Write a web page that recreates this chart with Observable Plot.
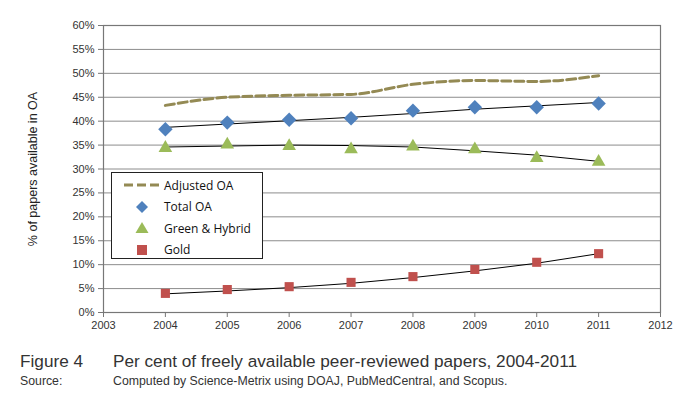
<!DOCTYPE html>
<html><head><meta charset="utf-8">
<script src="https://cdn.jsdelivr.net/npm/d3@7"></script>
<script src="https://cdn.jsdelivr.net/npm/@observablehq/plot@0.6"></script>
<style>
body{margin:0;background:#fff;font-family:"Liberation Sans",Arial,sans-serif;}
#wrap{position:relative;width:689px;height:401px;}
#legend{position:absolute;left:111px;top:172px;width:150px;height:85px;border:1px solid #222;background:#fff;font-family:"Open Sans","Liberation Sans",sans-serif;font-size:12px;color:#111;}
#legend .row{position:absolute;left:0;height:20px;display:flex;align-items:center;}
#legend svg{width:40px;height:16px;margin-left:10px;margin-right:2px;}
.cap{position:absolute;color:#333;font-family:"Liberation Sans",Arial,sans-serif;white-space:nowrap;}
</style></head>
<body><div id="wrap"><div id="chart"></div>
<div id="legend"></div>
<div class="cap" style="left:20px;top:351px;font-size:17.2px;">Figure 4</div>
<div class="cap" style="left:113px;top:351px;font-size:17.2px;">Per cent of freely available peer-reviewed papers, 2004-2011</div>
<div class="cap" style="left:20px;top:374px;font-size:12.3px;">Source:</div>
<div class="cap" style="left:113px;top:374px;font-size:12.3px;">Computed by Science-Metrix using DOAJ, PubMedCentral, and Scopus.</div>
</div>
<script>
const years = [2004,2005,2006,2007,2008,2009,2010,2011];
const adjustedOA = [43.3,45.0,45.4,45.6,47.7,48.5,48.3,49.5];
const totalOA = [38.3,39.7,40.3,40.6,42.2,42.9,42.9,43.7];
const greenHybrid = [34.4,35.1,34.8,34.1,34.7,34.1,32.3,31.5];
const gold = [4.0,4.8,5.4,6.3,7.5,9.0,10.5,12.3];
const totalTrend = [38.7,39.4,40.1,40.8,41.6,42.5,43.2,43.9];
const greenTrend = [34.6,34.8,35.0,34.9,34.6,33.8,32.9,31.6];
const goldTrend = [3.9,4.5,5.2,6.1,7.3,8.7,10.3,12.3];
const xTicks = [2003,2004,2005,2006,2007,2008,2009,2010,2011,2012];
const yTicks = [0,5,10,15,20,25,30,35,40,45,50,55,60];
const seriesNames = ["Adjusted OA","Total OA","Green & Hybrid","Gold"];
const colors = {adj:"#948A54", total:"#4F81BD", green:"#9BBB59", gold:"#C0504D"};

const rows = (vals) => years.map((y,i)=>({year:y, v:vals[i]}));

const chart = Plot.plot({
  width:689, height:335,
  marginLeft:103, marginRight:29, marginTop:25, marginBottom:23,
  style:{fontFamily:"Liberation Sans, Arial, sans-serif", fontSize:"11px", color:"#333"},
  x:{domain:[2003,2012]},
  y:{domain:[0,60]},
  marks:[
    Plot.ruleY(yTicks,{stroke:"#8c8c8c", strokeWidth:1}),
    Plot.frame({stroke:"#777", strokeWidth:1.2}),
    Plot.axisX({ticks:xTicks, tickFormat:d=>String(d), tickSize:5, tickPadding:4, stroke:"#777", fill:"#333", label:null}),
    Plot.axisY({ticks:yTicks, tickFormat:d=>d+"%", tickSize:5, tickPadding:4, stroke:"#777", fill:"#333", label:null}),
    Plot.text(["% of papers available in OA"],{frameAnchor:"left", dx:-71, rotate:-90, textAnchor:"middle", fontSize:12.5, fill:"#222"}),
    Plot.line(rows(adjustedOA),{x:"year",y:"v",stroke:colors.adj,strokeWidth:3,strokeDasharray:"9,4",curve:"monotone-x"}),
    Plot.line(rows(totalTrend),{x:"year",y:"v",stroke:"#000",strokeWidth:1}),
    Plot.line(rows(greenTrend),{x:"year",y:"v",stroke:"#000",strokeWidth:1}),
    Plot.line(rows(goldTrend),{x:"year",y:"v",stroke:"#000",strokeWidth:1}),
    Plot.dot(rows(totalOA),{x:"year",y:"v",symbol:"diamond2",r:6.5,fill:colors.total,stroke:"none"}),
    Plot.dot(rows(greenHybrid),{x:"year",y:"v",symbol:"triangle2",r:6.5,fill:colors.green,stroke:"none"}),
    Plot.dot(rows(gold),{x:"year",y:"v",symbol:"square2",r:5.8,fill:colors.gold,stroke:"none"})
  ]
});
document.getElementById("chart").appendChild(chart);

const sw = [
  `<line x1="2" y1="8" x2="38" y2="8" stroke="${colors.adj}" stroke-width="3" stroke-dasharray="9,4"/>`,
  `<path d="M20 2 L26 8 L20 14 L14 8 Z" fill="${colors.total}"/>`,
  `<path d="M20 2 L26.5 13 L13.5 13 Z" fill="${colors.green}"/>`,
  `<rect x="15" y="3" width="10" height="10" fill="${colors.gold}"/>`
];
const leg = document.getElementById("legend");
seriesNames.forEach((n,i)=>{
  const r = document.createElement("div");
  r.className="row"; r.style.top=(2+i*21.5)+"px";
  r.innerHTML=`<svg viewBox="0 0 40 16">${sw[i]}</svg><span>${n}</span>`;
  leg.appendChild(r);
});
</script></body></html>
